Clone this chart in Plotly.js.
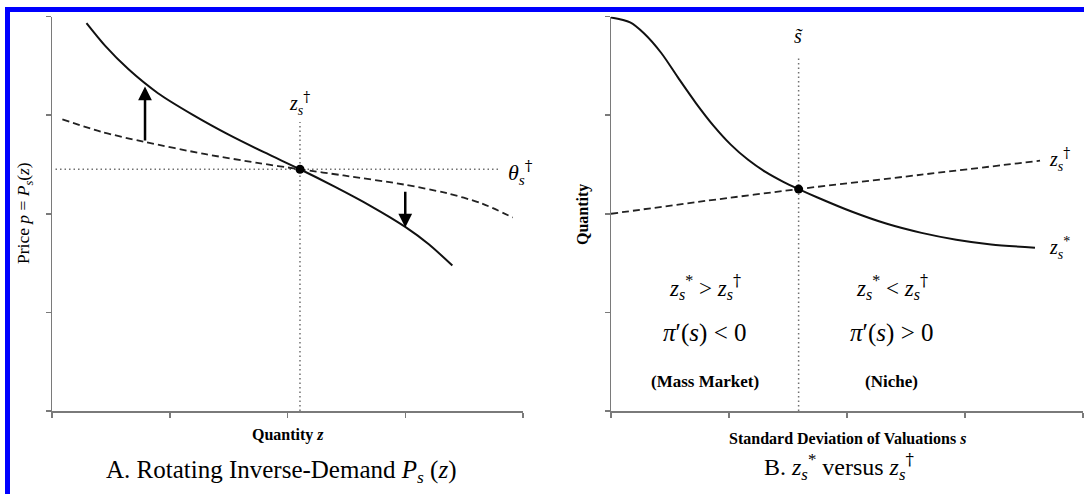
<!DOCTYPE html>
<html>
<head>
<meta charset="utf-8">
<script src="https://cdn.plot.ly/plotly-3.0.1.min.js"></script>
<style>
  body { margin: 0; background: #fff; }
  #chart { width: 1084px; height: 494px; }
</style>
</head>
<body>
<div id="chart"></div>
<script>
// panel A: rotating inverse demand (axes run 0..4)
var aSolidX = [0.293, 0.45, 0.65, 0.9, 1.2, 1.5, 1.8, 2.106, 2.4, 2.7, 3.0, 3.2, 3.4];
var aSolidY = [3.932, 3.704, 3.464, 3.222, 3.0, 2.802, 2.624, 2.451, 2.275, 2.083, 1.867, 1.691, 1.475];
var aDashX = [0.088, 0.425, 0.776, 1.305, 1.744, 2.106, 2.477, 2.99, 3.355, 3.648, 3.913];
var aDashY = [2.957, 2.829, 2.731, 2.604, 2.516, 2.451, 2.388, 2.296, 2.208, 2.105, 1.962];
var aCross = [2.106, 2.451];          // z_s dagger, theta_s dagger
var aThetaX = [0.03, 3.8];            // horizontal dotted line extent
var aZTop = 2.93;                     // top of vertical dotted line
var aUpArrow = [0.79, 2.727, 3.29];   // x, tail y, head y
var aDownArrow = [3.0, 2.238, 1.86];

// panel B: z* versus z dagger
var bSolidX = [0, 0.162, 0.279, 0.426, 0.574, 0.721, 0.868, 1.015, 1.162, 1.309, 1.456, 1.59, 1.75, 2.044, 2.338, 2.632, 2.926, 3.221, 3.593];
var bSolidY = [3.99, 3.94, 3.83, 3.63, 3.37, 3.12, 2.894, 2.701, 2.547, 2.424, 2.326, 2.25, 2.165, 2.02, 1.898, 1.806, 1.737, 1.689, 1.656];
var bDashX = [0, 0.8, 1.59, 2.632, 3.636];
var bDashY = [2.0, 2.13, 2.25, 2.396, 2.538];
var bCross = [1.59, 2.25];            // s tilde
var bSTop = 3.59;

var tickVals = [0, 1, 2, 3, 4];

var W = 1084, H = 494;
function px(x) { return x / W; }
function py(y) { return 1 - y / H; }

var serif = 'Liberation Serif, Times New Roman, serif';
var lineCol = '#111';
var dotCol = '#707070';

var data = [
  {x: [aCross[0], aCross[0]], y: [0, aZTop], xaxis: 'x', yaxis: 'y', mode: 'lines',
   line: {color: dotCol, width: 1.5, dash: '1.5px,3px'}},
  {x: aThetaX, y: [aCross[1], aCross[1]], xaxis: 'x', yaxis: 'y', mode: 'lines',
   line: {color: dotCol, width: 1.5, dash: '1.5px,3px'}},
  {x: aDashX, y: aDashY, xaxis: 'x', yaxis: 'y', mode: 'lines',
   line: {color: '#222', width: 1.8, dash: '7px,4px', shape: 'spline', smoothing: 0.8}},
  {x: aSolidX, y: aSolidY, xaxis: 'x', yaxis: 'y', mode: 'lines',
   line: {color: lineCol, width: 2, shape: 'spline', smoothing: 0.8}},
  {x: [aCross[0]], y: [aCross[1]], xaxis: 'x', yaxis: 'y', mode: 'markers',
   marker: {color: '#000', size: 9}},

  {x: [bCross[0], bCross[0]], y: [0, bSTop], xaxis: 'x2', yaxis: 'y2', mode: 'lines',
   line: {color: dotCol, width: 1.5, dash: '1.5px,3px'}},
  {x: bDashX, y: bDashY, xaxis: 'x2', yaxis: 'y2', mode: 'lines',
   line: {color: '#222', width: 1.8, dash: '7px,4px', shape: 'spline', smoothing: 0.8}},
  {x: bSolidX, y: bSolidY, xaxis: 'x2', yaxis: 'y2', mode: 'lines',
   line: {color: lineCol, width: 2, shape: 'spline', smoothing: 0.8}},
  {x: [bCross[0]], y: [bCross[1]], xaxis: 'x2', yaxis: 'y2', mode: 'markers',
   marker: {color: '#000', size: 9}}
];

function axisStyle(domain, anchor) {
  return {
    domain: domain, anchor: anchor, range: [0, 4], tickvals: tickVals,
    showticklabels: false, showgrid: false, zeroline: false,
    showline: true, linecolor: '#7a7a7a', linewidth: 1.5,
    ticks: 'outside', ticklen: 5, tickwidth: 1.5, tickcolor: '#7a7a7a',
    fixedrange: true
  };
}

var yDom = [py(411), py(16.5)];

function note(text, x, y, size, extra) {
  var a = {text: text, x: x, y: y, xref: 'paper', yref: 'paper', showarrow: false,
           xanchor: 'center', yanchor: 'middle', font: {family: serif, size: size, color: '#000'}};
  for (var k in extra) a[k] = extra[k];
  return a;
}
function dnote(text, x, y, xr, yr, size) {
  return {text: text, x: x, y: y, xref: xr, yref: yr, showarrow: false,
          xanchor: 'center', yanchor: 'middle', font: {family: serif, size: size, color: '#000'}};
}
function arrow(a, xr, yr) {
  return {x: a[0], y: a[2], ax: a[0], ay: a[1], xref: xr, yref: yr, axref: xr, ayref: yr,
          text: '', showarrow: true, arrowhead: 2, arrowsize: 1.1, arrowwidth: 2.5,
          arrowcolor: '#000', standoff: 0, startstandoff: 0};
}

// dagger drawn in DejaVu Serif so it stays black
var dag = '<span style="font-family:DejaVu Serif;color:#000">†</span>';
var zDag = '<i>z</i><sub><i>s</i></sub><sup>' + dag + '</sup>';
var zStar = '<i>z</i><sub><i>s</i></sub><sup>*</sup>';

var annotations = [
  // panel A
  dnote(zDag, aCross[0], 3.12, 'x', 'y', 20),
  dnote('<i>θ</i><sub><i>s</i></sub><sup>' + dag + '</sup>', 3.98, 2.42, 'x', 'y', 22),
  arrow(aUpArrow, 'x', 'y'),
  arrow(aDownArrow, 'x', 'y'),
  note('<b>Quantity <i>z</i></b>', px(288), py(435), 16),
  note('Price <i>p</i> = <i>P<sub>s</sub></i>(<i>z</i>)', px(24), py(213), 17.5, {textangle: -90}),
  note('A. Rotating Inverse-Demand <i>P<sub>s</sub></i> (<i>z</i>)', px(282), py(471), 25),

  // panel B
  dnote('<i>s\u0303</i>', bCross[0], 3.8, 'x2', 'y2', 20),
  dnote(zDag, 3.8, 2.55, 'x2', 'y2', 20),
  dnote(zStar, 3.8, 1.65, 'x2', 'y2', 20),
  dnote(zStar + ' &gt; ' + zDag, 0.797, 1.26, 'x2', 'y2', 23),
  dnote('<i>π</i>′(<i>s</i>) &lt; 0', 0.797, 0.79, 'x2', 'y2', 25),
  dnote('<b>(Mass Market)</b>', 0.797, 0.30, 'x2', 'y2', 17),
  dnote(zStar + ' &lt; ' + zDag, 2.38, 1.26, 'x2', 'y2', 23),
  dnote('<i>π</i>′(<i>s</i>) &gt; 0', 2.38, 0.79, 'x2', 'y2', 25),
  dnote('<b>(Niche)</b>', 2.38, 0.30, 'x2', 'y2', 17),
  note('<b>Standard Deviation of Valuations <i>s</i></b>', px(847), py(438), 16),
  note('<b>Quantity</b>', px(583), py(215), 16, {textangle: -90}),
  note('B. ' + zStar + ' versus ' + zDag, px(839), py(466), 24)
];

var layout = {
  width: W, height: H,
  margin: {l: 0, r: 0, t: 0, b: 0},
  paper_bgcolor: '#fff', plot_bgcolor: '#fff',
  showlegend: false,
  font: {family: serif, color: '#000'},
  xaxis: axisStyle([px(52), px(523)], 'y'),
  yaxis: axisStyle(yDom, 'x'),
  xaxis2: axisStyle([px(611), px(1083)], 'y2'),
  yaxis2: axisStyle(yDom, 'x2'),
  annotations: annotations,
  shapes: [
    // blue frame from the source scan (top and left edges)
    {type: 'rect', xref: 'paper', yref: 'paper', x0: px(5), x1: 1, y0: py(12), y1: py(7),
     fillcolor: '#0000ff', line: {width: 0}},
    {type: 'rect', xref: 'paper', yref: 'paper', x0: px(5), x1: px(10), y0: 0, y1: py(7),
     fillcolor: '#0000ff', line: {width: 0}}
  ]
};

Plotly.newPlot('chart', data, layout, {displayModeBar: false, staticPlot: true});
</script>
</body>
</html>
